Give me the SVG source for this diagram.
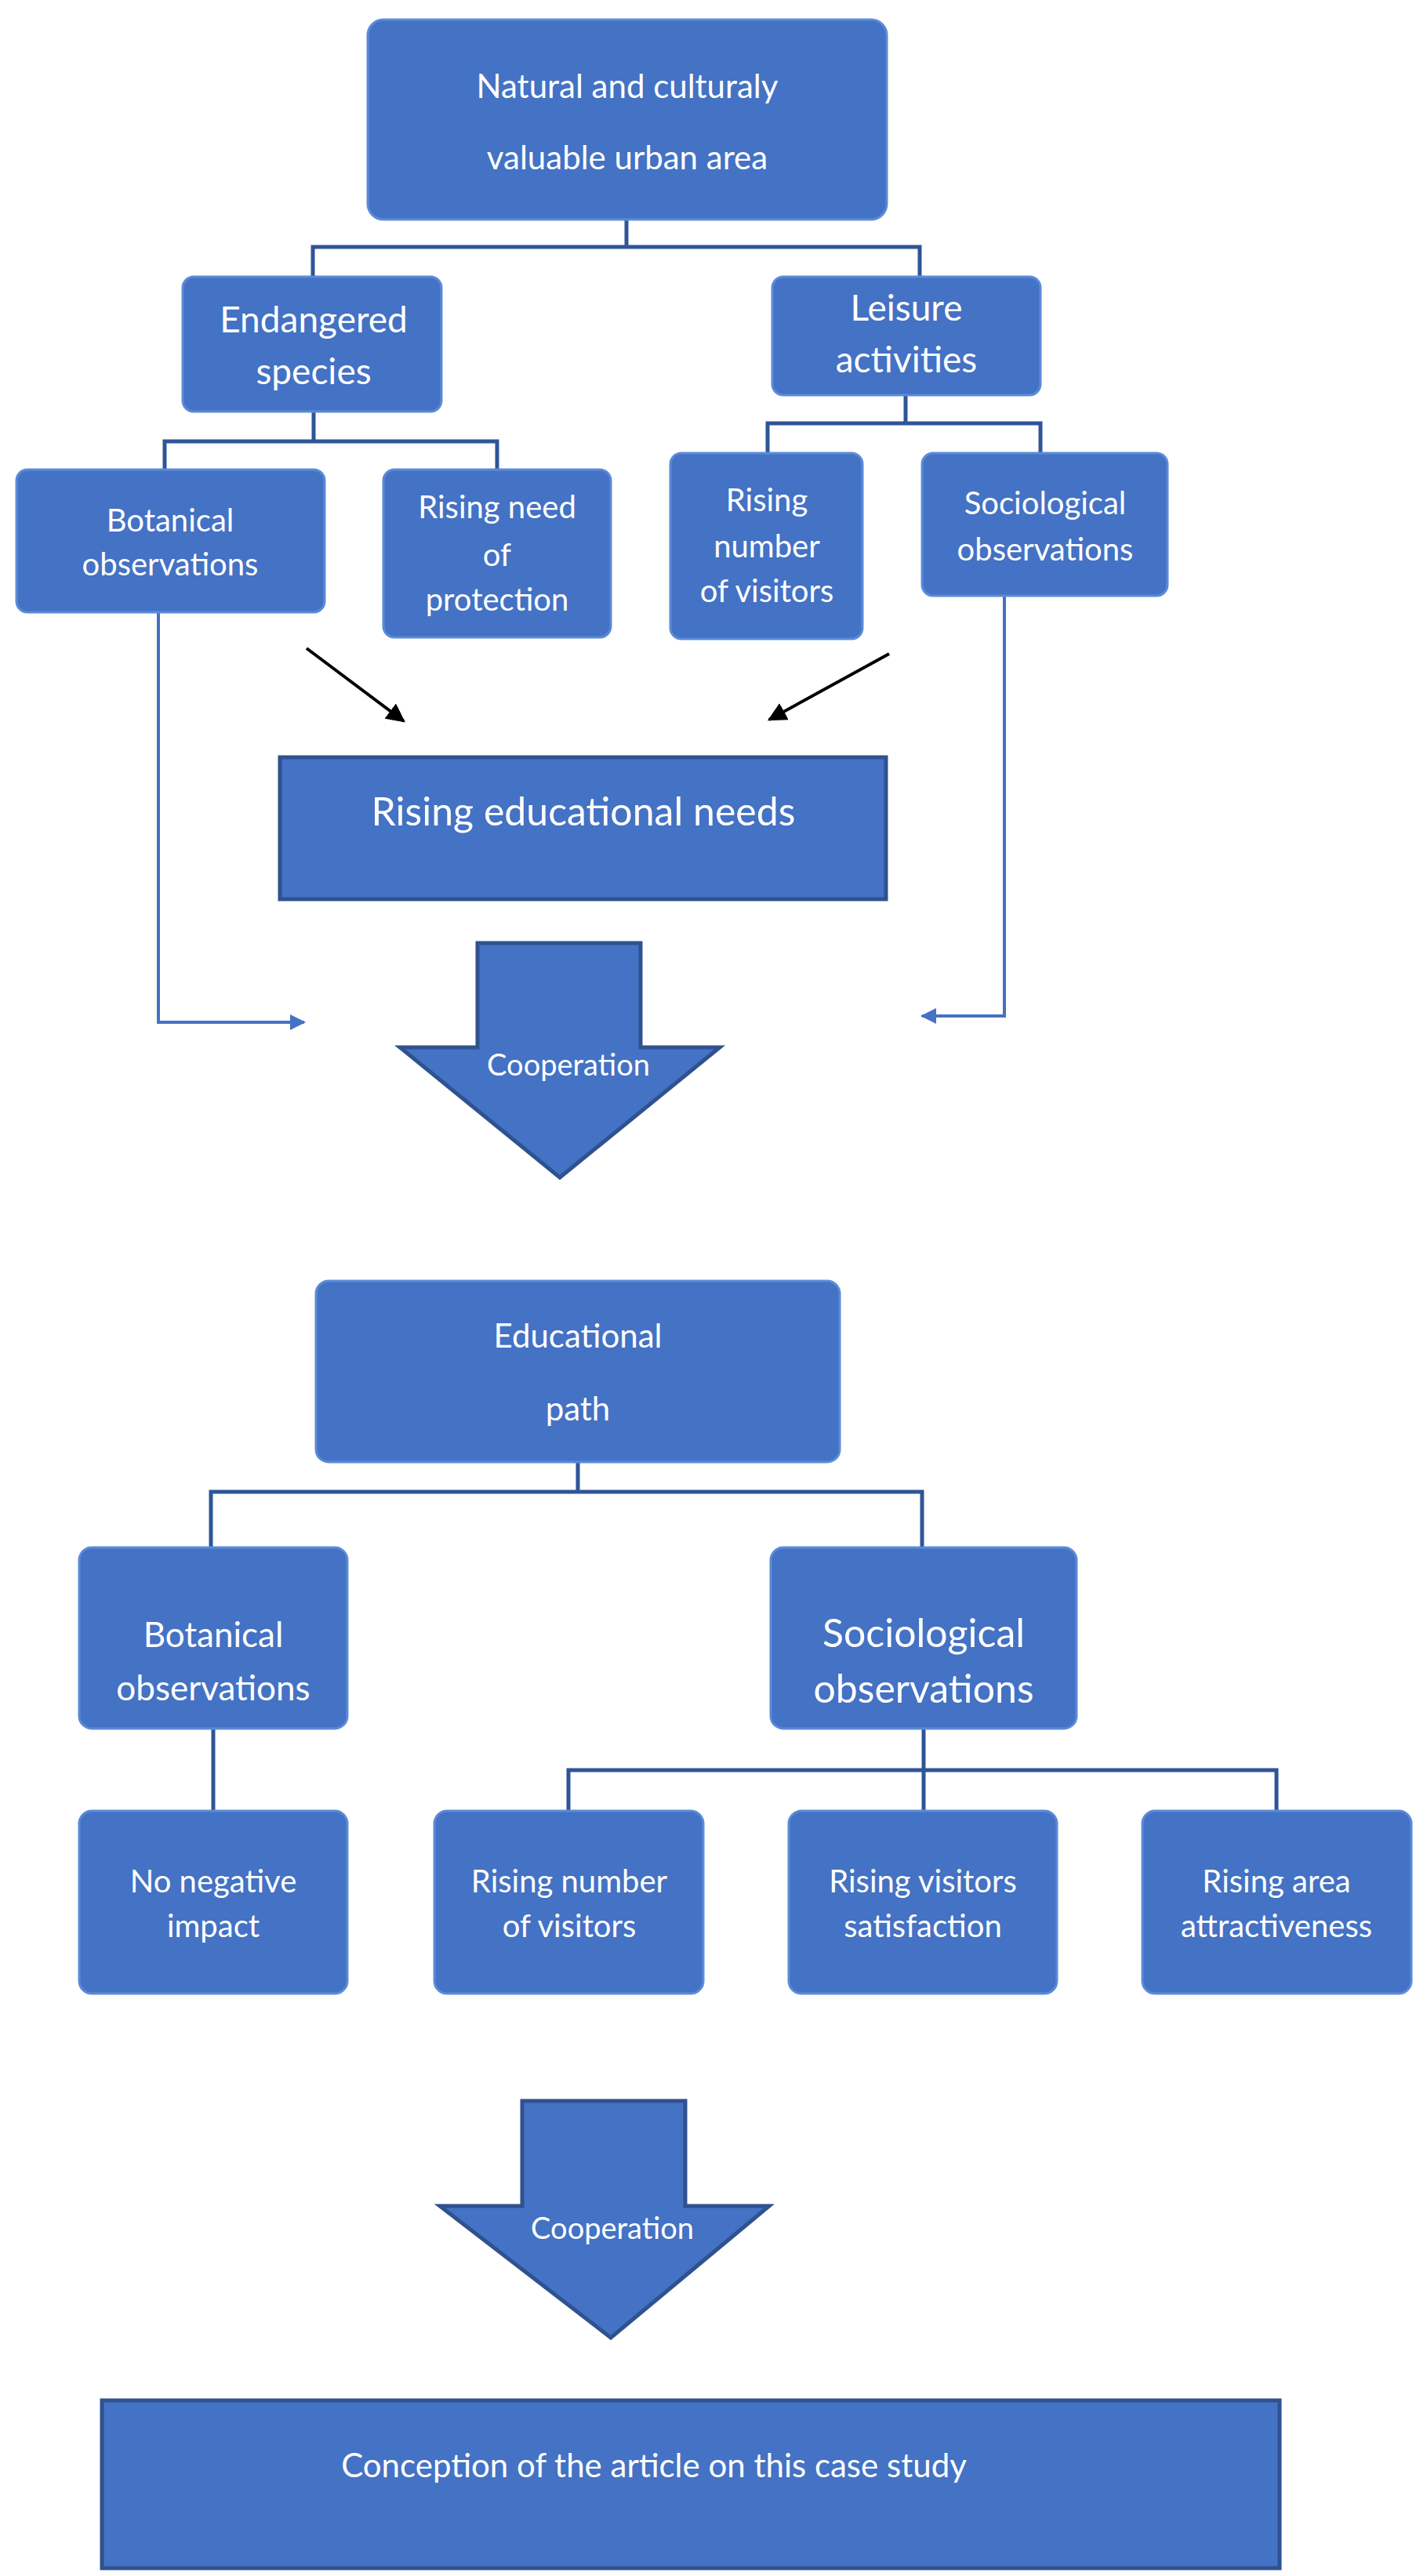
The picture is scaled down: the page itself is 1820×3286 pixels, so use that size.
<svg xmlns="http://www.w3.org/2000/svg" width="1820" height="3286" viewBox="0 0 1820 3286">
<defs>
<style>
.b{fill:#4472C4;stroke:#5B8BD8;stroke-width:3}
.r{fill:#4472C4;stroke:#2F528F;stroke-width:5}
.c{fill:none;stroke:#2F5597;stroke-width:5}
.l{fill:none;stroke:#4472C4;stroke-width:4}
text{font-family:Lato,"Open Sans",sans-serif;fill:#fff;text-anchor:middle}
</style>
<marker id="ak" viewBox="0 0 10 10" refX="9" refY="5" markerWidth="6" markerHeight="6" orient="auto"><path d="M0,0L10,5L0,10z" fill="#000"/></marker>
<marker id="ab" viewBox="0 0 10 10" refX="9" refY="5" markerWidth="5" markerHeight="5" orient="auto"><path d="M0,0L10,5L0,10z" fill="#4472C4"/></marker>
</defs>
<g id="connectors">
<path class="c" d="M799,280V315M399,353V315H1173V353"/>
<path class="c" d="M400,525V563M210,599V563H634V599"/>
<path class="c" d="M1155,504V540M979,578V540H1327V578"/>
<path class="c" d="M737,1865V1903M269,1974V1903H1176V1974"/>
<path class="c" d="M272,2205V2310"/>
<path class="c" d="M1178,2205V2310M725,2310V2258H1628V2310"/>
<path class="l" d="M202,781V1304H388" marker-end="url(#ab)"/>
<path class="l" d="M1281,760V1296H1176" marker-end="url(#ab)"/>
<path d="M391,827L515,920" stroke="#000" stroke-width="4" marker-end="url(#ak)"/>
<path d="M1134,834L981,918" stroke="#000" stroke-width="4" marker-end="url(#ak)"/>
</g>
<g id="n1"><rect class="b" x="469" y="25" width="662" height="255" rx="20"/><text x="800" y="125" font-size="42">Natural and culturaly</text><text x="800" y="216" font-size="42">valuable urban area</text></g>
<g id="n2"><rect class="b" x="233" y="353" width="330" height="172" rx="14"/><text x="400" y="424" font-size="46">Endangered</text><text x="400" y="490" font-size="46">species</text></g>
<g id="n3"><rect class="b" x="985" y="353" width="342" height="151" rx="14"/><text x="1156" y="409" font-size="46">Leisure</text><text x="1156" y="475" font-size="46">activities</text></g>
<g id="n4"><rect class="b" x="21" y="599" width="393" height="182" rx="14"/><text x="217" y="678" font-size="40">Botanical</text><text x="217" y="734" font-size="40">observations</text></g>
<g id="n5"><rect class="b" x="489" y="599" width="290" height="214" rx="14"/><text x="634" y="661" font-size="40">Rising need</text><text x="634" y="722" font-size="40">of</text><text x="634" y="779" font-size="40">protection</text></g>
<g id="n6"><rect class="b" x="855" y="578" width="245" height="237" rx="14"/><text x="978" y="652" font-size="40">Rising</text><text x="978" y="711" font-size="40">number</text><text x="978" y="768" font-size="40">of visitors</text></g>
<g id="n7"><rect class="b" x="1176" y="578" width="313" height="182" rx="14"/><text x="1333" y="656" font-size="40">Sociological</text><text x="1333" y="715" font-size="40">observations</text></g>
<g id="n8"><rect class="r" x="357" y="966" width="773" height="181"/><text x="744" y="1053" font-size="50">Rising educational needs</text></g>
<g id="n9"><path class="r" d="M609,1203H817V1336H918L714,1502L510,1336H609Z" stroke-width="3"/><text x="725" y="1372" font-size="38">Cooperation</text></g>
<g id="n10"><rect class="b" x="403" y="1634" width="668" height="231" rx="16"/><text x="737" y="1719" font-size="42">Educational</text><text x="737" y="1812" font-size="42">path</text></g>
<g id="n11"><rect class="b" x="101" y="1974" width="342" height="231" rx="16"/><text x="272" y="2101" font-size="44">Botanical</text><text x="272" y="2169" font-size="44">observations</text></g>
<g id="n12"><rect class="b" x="983" y="1974" width="390" height="231" rx="16"/><text x="1178" y="2101" font-size="50">Sociological</text><text x="1178" y="2172" font-size="50">observations</text></g>
<g id="n13"><rect class="b" x="101" y="2310" width="342" height="233" rx="16"/><text x="272" y="2414" font-size="40">No negative</text><text x="272" y="2471" font-size="40">impact</text></g>
<g id="n14"><rect class="b" x="554" y="2310" width="343" height="233" rx="16"/><text x="726" y="2414" font-size="40">Rising number</text><text x="726" y="2471" font-size="40">of visitors</text></g>
<g id="n15"><rect class="b" x="1006" y="2310" width="342" height="233" rx="16"/><text x="1177" y="2414" font-size="40">Rising visitors</text><text x="1177" y="2471" font-size="40">satisfaction</text></g>
<g id="n16"><rect class="b" x="1457" y="2310" width="343" height="233" rx="16"/><text x="1628" y="2414" font-size="40">Rising area</text><text x="1628" y="2471" font-size="40">attractiveness</text></g>
<g id="n17"><path class="r" d="M666,2680H874V2814H981L779,2982L561,2814H666Z" stroke-width="3"/><text x="781" y="2856" font-size="38">Cooperation</text></g>
<g id="n18"><rect class="r" x="130" y="3062" width="1502" height="214"/><text x="834" y="3160" font-size="42">Conception of the article on this case study</text></g>
</svg>
